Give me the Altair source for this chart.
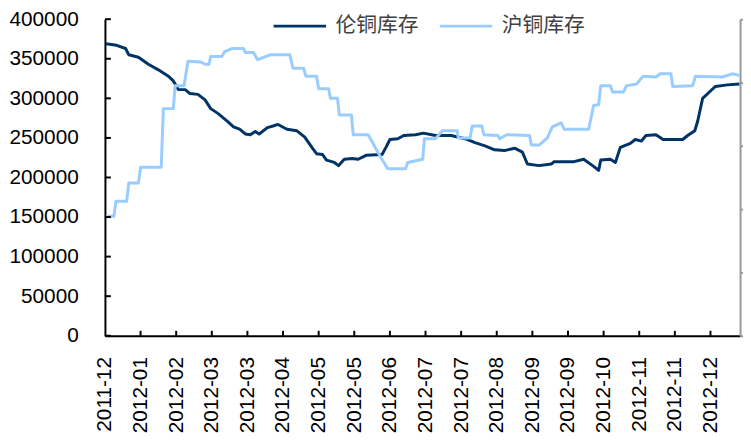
import altair as alt
import pandas as pd

# ---------------- data ----------------
x_labels = ["2011-12", "2012-01", "2012-02", "2012-03", "2012-03", "2012-04",
            "2012-05", "2012-05", "2012-06", "2012-07", "2012-07", "2012-08",
            "2012-09", "2012-09", "2012-10", "2012-11", "2012-11", "2012-12"]
x_max = 17.83

series_names = ["伦铜库存", "沪铜库存"]
series_colors = ["#003366", "#99CCFF"]

y_ticks = [0, 50000, 100000, 150000, 200000, 250000, 300000, 350000, 400000]

# LME copper stocks (伦铜库存): position on the label axis, value
lme_x = [0.03, 0.33, 0.58, 0.67, 0.94, 1.22, 1.50, 1.78, 1.92, 2.00, 2.06, 2.25,
         2.39, 2.61, 2.81, 2.97, 3.17, 3.44, 3.61, 3.78, 3.94, 4.08, 4.22, 4.33,
         4.56, 4.72, 4.86, 5.11, 5.39, 5.61, 5.81, 5.94, 6.11, 6.22, 6.44, 6.56,
         6.72, 6.94, 7.11, 7.33, 7.78, 7.89, 8.00, 8.22, 8.39, 8.72, 8.94, 9.28,
         9.72, 10.11, 10.39, 10.67, 10.94, 11.22, 11.50, 11.72, 11.86, 12.19,
         12.53, 12.61, 13.17, 13.44, 13.72, 13.86, 13.92, 14.19, 14.33, 14.47,
         14.75, 14.89, 15.06, 15.19, 15.47, 15.67, 16.22, 16.36, 16.56, 16.64,
         16.78, 16.97, 17.14, 17.47, 17.81]
lme_y = [369000, 367000, 363000, 355000, 352000, 343000, 336000, 328000, 322000,
         316000, 311000, 311000, 306000, 305000, 298000, 287000, 281000, 271000,
         264000, 261000, 255000, 254000, 258000, 255000, 263000, 265000, 267000,
         261000, 259000, 251000, 238000, 230000, 229000, 222000, 219000, 215000,
         223000, 224000, 223000, 228000, 229000, 238000, 248000, 249000, 253000,
         254000, 256000, 253000, 253000, 249000, 244000, 240000, 235000, 234000,
         237000, 232000, 217000, 215000, 217000, 220000, 220000, 223000, 214000,
         209000, 222000, 223000, 219000, 238000, 243000, 248000, 246000, 253000,
         254000, 248000, 248000, 253000, 259000, 271000, 300000, 308000, 315000,
         317000, 318000]

# SHFE copper stocks (沪铜库存)
shfe_x = [0.03, 0.25, 0.31, 0.61, 0.67, 0.94, 1.00, 1.58, 1.64, 1.92, 1.97, 2.22,
          2.33, 2.69, 2.81, 2.92, 2.97, 3.28, 3.36, 3.58, 3.89, 3.94, 4.17, 4.28,
          4.64, 5.19, 5.28, 5.58, 5.64, 5.94, 6.00, 6.28, 6.33, 6.53, 6.58, 6.92,
          6.97, 7.39, 7.75, 7.94, 8.44, 8.50, 8.92, 8.97, 9.28, 9.47, 9.89, 9.92,
          10.25, 10.31, 10.58, 10.64, 11.03, 11.08, 11.28, 11.92, 11.97, 12.19,
          12.42, 12.56, 12.81, 12.89, 13.58, 13.72, 13.86, 13.92, 14.19, 14.25,
          14.56, 14.64, 14.92, 15.11, 15.47, 15.58, 15.89, 15.94, 16.50, 16.58,
          17.33, 17.61, 17.81]
shfe_y = [151000, 151000, 170000, 170000, 193000, 193000, 213000, 213000, 287000,
          287000, 316000, 316000, 347000, 346000, 343000, 343000, 353000, 353000,
          359000, 363000, 363000, 358000, 358000, 349000, 355000, 355000, 338000,
          338000, 328000, 328000, 312000, 312000, 300000, 300000, 279000, 279000,
          254000, 254000, 225000, 211000, 211000, 219000, 223000, 249000, 249000,
          259000, 259000, 250000, 250000, 265000, 265000, 254000, 253000, 249000,
          254000, 253000, 241000, 241000, 250000, 264000, 269000, 261000, 261000,
          291000, 292000, 316000, 316000, 308000, 308000, 316000, 318000, 328000,
          327000, 331000, 331000, 315000, 316000, 328000, 327000, 331000, 329000]

right_ticks = [0, 1, 2, 3, 4, 5]

# ---------------- chart ----------------
df = pd.concat([
    pd.DataFrame({"x": lme_x, "v": lme_y, "s": series_names[0],
                  "o": list(range(len(lme_x)))}),
    pd.DataFrame({"x": shfe_x, "v": shfe_y, "s": series_names[1],
                  "o": list(range(len(shfe_x)))}),
], ignore_index=True)

label_array = "[" + ",".join("'" + s + "'" for s in x_labels) + "]"

xscale = alt.Scale(domain=[0, x_max], nice=False, zero=False)
yscale = alt.Scale(domain=[0, 400000], nice=False)

x_axis = alt.Axis(values=list(range(len(x_labels))),
                  labelExpr=label_array + "[datum.value]",
                  labelAngle=270, labelAlign="right", labelBaseline="middle",
                  labelPadding=21, labelFont="Liberation Sans",
                  labelFontSize=21, labelColor="black", labelOverlap=False,
                  title=None, grid=False, tickSize=0,
                  domainColor="black", domainWidth=2)
y_axis = alt.Axis(values=y_ticks, format="d", title=None, grid=False, tickSize=0,
                  labelPadding=27, labelFont="Liberation Sans",
                  labelFontSize=21, labelColor="black",
                  domainColor="black", domainWidth=2)

lines = alt.Chart(df).mark_line(strokeWidth=3, strokeJoin="round").encode(
    x=alt.X("x:Q", scale=xscale, axis=x_axis),
    y=alt.Y("v:Q", scale=yscale, axis=y_axis),
    color=alt.Color("s:N", scale=alt.Scale(domain=series_names, range=series_colors),
                    legend=alt.Legend(title=None, orient="none", legendX=169,
                                      legendY=-21, direction="horizontal",
                                      symbolType="stroke", symbolSize=2809,
                                      symbolStrokeWidth=3,
                                      labelFont="Noto Sans CJK SC",
                                      labelFontSize=21, labelColor="#404040",
                                      labelOffset=8, columnPadding=15)),
    order="o:Q",
)

ytick_df = pd.DataFrame({"v": y_ticks})
yticks = alt.Chart(ytick_df).mark_rule(color="black", strokeWidth=2).encode(
    y=alt.Y("v:Q", scale=yscale, axis=y_axis),
    x=alt.value(0), x2=alt.value(6),
)

xtick_df = pd.DataFrame({"x": list(range(1, len(x_labels)))})
xticks = alt.Chart(xtick_df).mark_rule(color="black", strokeWidth=2).encode(
    x=alt.X("x:Q", scale=xscale, axis=x_axis),
    y=alt.value(320), y2=alt.value(315),
)

right_df = pd.DataFrame({"r": [right_ticks[0], right_ticks[-1]]})
right_axis = alt.Chart(right_df).mark_point(opacity=0).encode(
    y=alt.Y("r:Q", scale=alt.Scale(domain=[right_ticks[0], right_ticks[-1]], nice=False),
            axis=alt.Axis(orient="right", values=right_ticks, labels=False,
                          title=None, grid=False, tickSize=4, tickWidth=2,
                          tickColor="#999999", domainColor="#999999",
                          domainWidth=2)),
    x=alt.value(642),
)

inner = alt.layer(lines, yticks, xticks)
chart = alt.layer(inner, right_axis).resolve_scale(y="independent").properties(
    width=642, height=320,
    padding={"left": 98, "top": 9, "right": 3, "bottom": 98},
    autosize=alt.AutoSizeParams(type="none"),
    background="white",
).configure_view(stroke=None)

chart.save("out.html", embed_options={"renderer": "svg", "actions": False})
